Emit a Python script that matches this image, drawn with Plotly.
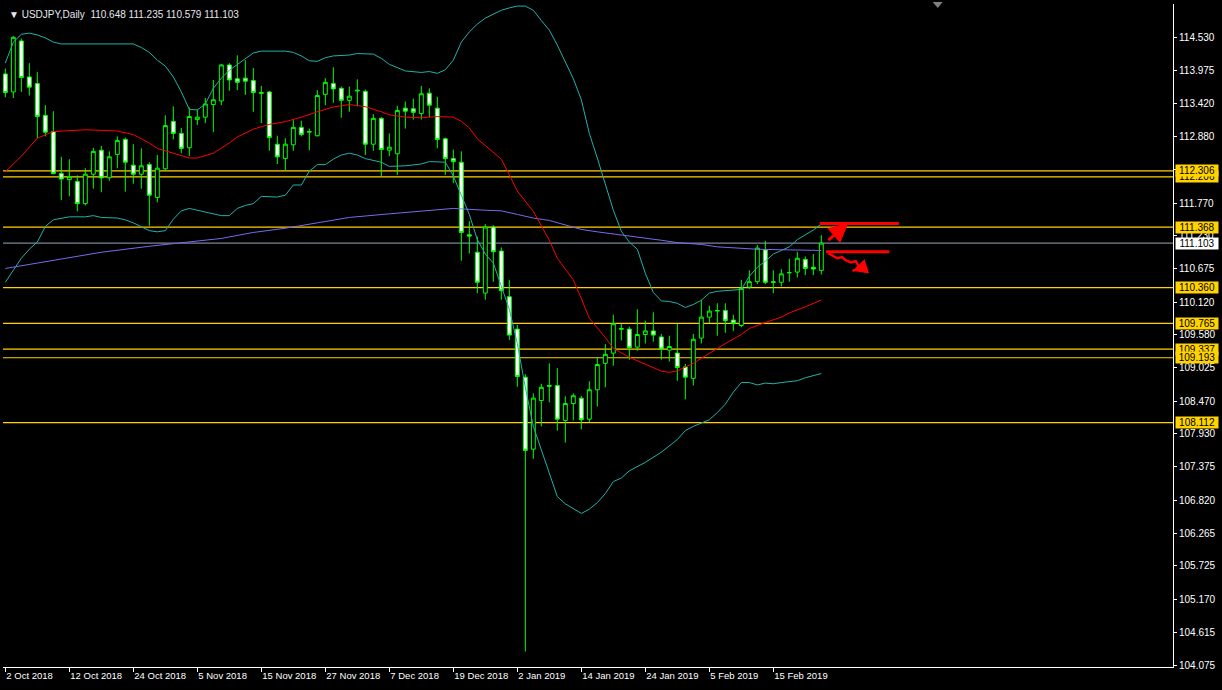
import plotly.graph_objects as go

# ---------------- data ----------------
symbol_title = "USDJPY,Daily"
last_ohlc_text = "110.648 111.235 110.579 111.103"

opens = [113.92, 113.62, 114.47, 113.87, 113.76, 113.23, 112.96, 112.26, 112.16, 112.13,
         111.76, 112.25, 112.65, 112.19, 112.58, 112.83, 112.40, 112.25, 112.41, 111.86,
         112.34, 113.13, 112.93, 112.69, 113.16, 113.20, 113.41, 113.47, 114.07, 113.84,
         113.85, 113.81, 113.61, 113.62, 112.75, 112.51, 112.74, 113.03, 112.95, 112.89,
         113.58, 113.76, 113.68, 113.48, 113.65, 113.63, 112.75, 113.18, 112.65, 112.59,
         113.35, 113.34, 113.26, 113.60, 113.35, 112.84, 112.51, 112.45, 111.24, 110.95,
         110.27, 111.37, 110.97, 110.21, 109.67, 108.87, 107.67, 108.48, 108.73, 108.73,
         108.15, 108.43, 108.52, 108.17, 108.66, 109.10, 109.27, 109.68, 109.67, 109.37,
         109.58, 109.64, 109.54, 109.32, 109.27, 109.04, 108.85, 109.52, 109.87, 109.97,
         109.98, 109.82, 109.73, 110.37, 110.46, 110.99, 110.46, 110.45, 110.61, 110.62,
         110.83, 110.70, 110.648]
highs = [114.01, 114.55, 114.51, 114.10, 113.95, 113.40, 113.30, 112.54, 112.50, 112.23,
         112.35, 112.69, 112.72, 112.63, 112.88, 112.86, 112.75, 112.68, 112.45, 112.57,
         113.23, 113.38, 113.02, 113.36, 113.33, 113.52, 113.82, 114.09, 114.10, 114.23,
         114.15, 114.02, 113.72, 113.64, 112.89, 112.85, 113.15, 113.14, 113.01, 113.65,
         113.85, 114.03, 113.71, 113.71, 113.83, 113.66, 113.25, 113.20, 112.93, 113.39,
         113.46, 113.51, 113.72, 113.68, 113.54, 112.86, 112.66, 112.63, 111.47, 111.21,
         111.42, 111.40, 111.03, 110.49, 109.74, 108.92, 108.60, 108.76, 109.10, 109.02,
         108.55, 108.60, 108.56, 108.80, 109.20, 109.42, 109.91, 109.76, 109.71, 110.00,
         109.81, 109.95, 109.59, 109.56, 109.76, 109.09, 109.59, 110.16, 110.06, 110.10,
         110.10, 109.91, 110.49, 110.65, 111.07, 111.14, 110.65, 110.67, 110.84, 110.96,
         110.88, 110.92, 111.235]
lows = [113.53, 113.52, 113.62, 113.56, 112.85, 112.88, 112.25, 111.82, 111.88, 111.63,
        111.73, 112.01, 111.95, 112.14, 112.35, 111.96, 112.09, 112.01, 111.39, 111.78,
        112.32, 112.83, 112.60, 112.55, 113.07, 113.10, 112.95, 113.40, 113.64, 113.65,
        113.57, 113.29, 113.10, 112.64, 112.42, 112.32, 112.64, 112.88, 112.65, 112.88,
        113.40, 113.44, 113.19, 113.29, 113.38, 112.57, 112.64, 112.22, 112.55, 112.24,
        113.01, 113.16, 113.16, 113.20, 112.68, 112.24, 112.10, 110.81, 110.93, 110.27,
        110.16, 110.46, 110.16, 109.49, 108.71, 104.30, 107.51, 108.05, 108.45, 107.98,
        107.78, 108.15, 108.00, 108.12, 108.38, 108.70, 109.06, 109.48, 109.16, 109.31,
        109.43, 109.46, 109.16, 109.13, 108.81, 108.50, 108.73, 109.43, 109.77, 109.56,
        109.61, 109.64, 109.70, 110.34, 110.42, 110.42, 110.27, 110.38, 110.46, 110.53,
        110.57, 110.57, 110.579]
closes = [113.61, 114.53, 113.86, 113.70, 113.21, 112.95, 112.26, 112.17, 112.21, 111.76,
          112.25, 112.63, 112.19, 112.54, 112.81, 112.45, 112.25, 112.39, 111.90, 112.35,
          113.06, 112.93, 112.68, 113.21, 113.20, 113.42, 113.49, 114.07, 113.82, 113.78,
          113.80, 113.61, 113.60, 112.86, 112.54, 112.75, 113.03, 112.91, 112.96, 113.56,
          113.78, 113.67, 113.48, 113.55, 113.64, 112.75, 113.18, 112.66, 112.70, 113.31,
          113.30, 113.28, 113.59, 113.40, 112.83, 112.51, 112.46, 111.28, 111.22, 110.45,
          111.37, 110.96, 110.31, 109.57, 108.88, 107.65, 108.52, 108.70, 108.72, 108.17,
          108.43, 108.56, 108.16, 108.66, 109.08, 109.25, 109.76, 109.67, 109.36, 109.58,
          109.64, 109.57, 109.34, 109.38, 109.03, 108.87, 109.50, 109.87, 109.97, 109.98,
          109.81, 109.76, 110.35, 110.46, 111.02, 110.45, 110.45, 110.59, 110.61, 110.85,
          110.68, 110.67, 111.103]

# Bollinger upper band (bar index, price)
bb_upper_idx = [0, 1, 2, 3, 4, 5, 6, 7, 16, 17, 18, 19, 20, 21, 22, 23, 24, 25, 26, 27,
                28, 29, 30, 31, 32, 35, 36, 37, 38, 39, 40, 41, 43, 44, 46, 47, 48, 50, 52, 53,
                54, 55, 56, 57, 58, 59, 60, 61, 62, 63, 64, 65, 66, 67, 68, 69, 70, 71, 72, 73,
                74, 75, 76, 77, 78, 79, 80, 81, 82, 83, 84, 85, 86, 87, 88, 89, 90, 91, 92, 93,
                94, 95, 96, 97, 98, 99, 100, 101, 102]
bb_upper_val = [114.10, 114.45, 114.58, 114.60, 114.57, 114.52, 114.45, 114.42, 114.42, 114.36,
                114.28, 114.15, 114.05, 113.87, 113.62, 113.33, 113.32, 113.42, 113.68, 113.85,
                113.98, 114.08, 114.18, 114.27, 114.30, 114.30, 114.28, 114.22, 114.14, 114.13,
                114.19, 114.22, 114.235, 114.26, 114.25, 114.18, 114.08, 113.97, 113.945, 113.96,
                113.93, 113.99, 114.15, 114.45, 114.62, 114.75, 114.85, 114.92, 114.98, 115.02,
                115.05, 115.05, 114.98, 114.81, 114.65, 114.40, 114.12, 113.84, 113.49, 112.93,
                112.52, 112.10, 111.65, 111.30, 111.12, 111.00, 110.60, 110.28, 110.14, 110.13,
                110.10, 110.03, 110.08, 110.15, 110.27, 110.30, 110.31, 110.31, 110.33, 110.55,
                110.70, 110.80, 110.92, 110.98, 111.04, 111.16, 111.24, 111.32, 111.42]

# Bollinger lower band
bb_lower_idx = [0, 1, 2, 3, 4, 5, 6, 8, 10, 11, 12, 14, 15, 16, 17, 18, 19, 20, 21, 22,
                23, 24, 26, 27, 28, 29, 30, 31, 32, 34, 35, 36, 37, 38, 39, 40, 41, 42, 43, 44,
                45, 47, 48, 50, 52, 53, 55, 56, 57, 58, 59, 60, 61, 62, 63, 64, 65, 66, 67, 68,
                69, 70, 71, 72, 73, 74, 75, 76, 77, 78, 80, 82, 84, 85, 86, 87, 88, 89, 90, 91,
                92, 93, 94, 95, 96, 97, 99, 100, 102]
bb_lower_val = [110.45, 110.65, 110.85, 111.00, 111.12, 111.38, 111.49, 111.54, 111.54, 111.56,
                111.53, 111.52, 111.49, 111.44, 111.38, 111.31, 111.29, 111.31, 111.50, 111.64,
                111.68, 111.65, 111.60, 111.56, 111.56, 111.68, 111.73, 111.76, 111.88, 111.87,
                111.90, 112.07, 112.07, 112.30, 112.41, 112.41, 112.50, 112.57, 112.60, 112.57,
                112.51, 112.45, 112.38, 112.39, 112.42, 112.46, 112.45, 112.22, 111.90, 111.58,
                111.16, 110.92, 110.77, 110.40, 110.00, 109.43, 108.70, 108.05, 107.65, 107.25,
                106.88, 106.76, 106.68, 106.60, 106.67, 106.78, 106.93, 107.13, 107.19, 107.31,
                107.45, 107.62, 107.83, 107.98, 108.05, 108.11, 108.16, 108.28, 108.42, 108.62,
                108.78, 108.78, 108.74, 108.77, 108.76, 108.78, 108.81, 108.86, 108.93]

# Moving average (red)
ma_red_idx = [0, 2, 4, 6, 10, 14, 16, 18, 19, 21, 23, 24, 26, 28, 29, 31, 33, 35, 37, 39,
              41, 43, 45, 47, 48, 50, 52, 54, 56, 57, 58, 59, 61, 62, 63, 64, 66, 68, 69, 71,
              72, 73, 75, 76, 78, 80, 82, 83, 84, 86, 88, 90, 92, 93, 95, 97, 98, 100, 102]
ma_red_val = [112.29, 112.55, 112.85, 112.96, 112.99, 112.97, 112.91, 112.77, 112.68, 112.60,
              112.52, 112.52, 112.60, 112.77, 112.87, 113.00, 113.08, 113.125, 113.20, 113.29,
              113.37, 113.41, 113.375, 113.29, 113.24, 113.20, 113.19, 113.21, 113.20, 113.13,
              113.02, 112.84, 112.62, 112.50, 112.24, 111.97, 111.63, 111.15, 110.85, 110.49,
              110.18, 109.85, 109.53, 109.35, 109.20, 109.08, 108.97, 108.95, 108.975, 109.10,
              109.27, 109.43, 109.58, 109.68, 109.78, 109.87, 109.94, 110.04, 110.155]

# Long moving average (blue)
ma_blue_idx = [0, 6, 12, 18, 24, 27, 31, 35, 39, 43, 48, 52, 54, 56, 60, 62, 64, 66, 68, 70,
               72, 74, 77, 79, 82, 84, 87, 89, 91, 94, 98, 102]
ma_blue_val = [110.68, 110.82, 110.95, 111.05, 111.13, 111.18, 111.28, 111.35, 111.44, 111.53,
               111.59, 111.64, 111.665, 111.68, 111.65, 111.64, 111.58, 111.52, 111.48, 111.40,
               111.33, 111.29, 111.24, 111.20, 111.15, 111.11, 111.08, 111.04, 111.02, 111.00,
               110.99, 110.98]

# horizontal levels (label drawing order: later ones on top)
yellow_levels = [112.206, 112.306, 111.368, 110.360, 109.765, 109.337, 109.193, 108.112]
bid_price = 111.103

# axis ticks
x_tick_idx = [0, 8, 16, 24, 32, 40, 48, 56, 64, 72, 80, 88, 96]
x_tick_text = ["2 Oct 2018", "12 Oct 2018", "24 Oct 2018", "5 Nov 2018", "15 Nov 2018",
               "27 Nov 2018", "7 Dec 2018", "19 Dec 2018", "2 Jan 2019", "14 Jan 2019",
               "24 Jan 2019", "5 Feb 2019", "15 Feb 2019"]
y_tick_vals = [114.530, 113.975, 113.420, 112.880, 112.325, 111.770, 111.230, 110.675,
               110.120, 109.580, 109.025, 108.470, 107.930, 107.375, 106.820, 106.265,
               105.725, 105.170, 104.615, 104.075]

# hand-drawn red marks (bar index, price)
red_line_top = ([101.8, 111.7], [111.43, 111.43])
red_arrow_up = ([102.7, 105.4], [111.13, 111.44])
red_line_mid = ([102.6, 110.5], [110.96, 110.96])
red_squiggle = ([102.9, 104.0, 104.6, 105.0, 105.7, 106.3, 106.6, 106.6, 105.9],
                [110.93, 110.85, 110.87, 110.82, 110.78, 110.80, 110.74, 110.67, 110.64])

# ---------------- figure ----------------
GOLD = "#FFD200"
FONT = "Liberation Sans, Arial, sans-serif"
fig = go.Figure()

x_bars = list(range(len(opens)))

for idx, val, col, w in [(bb_upper_idx, bb_upper_val, "#20B2AA", 1),
                         (bb_lower_idx, bb_lower_val, "#20B2AA", 1),
                         (ma_blue_idx, ma_blue_val, "#7B68EE", 1),
                         (ma_red_idx, ma_red_val, "#FF0000", 1)]:
    fig.add_trace(go.Scatter(x=idx, y=val, mode="lines", line=dict(color=col, width=w),
                             hoverinfo="skip", showlegend=False))

fig.add_trace(go.Candlestick(
    x=x_bars, open=opens, high=highs, low=lows, close=closes,
    increasing=dict(line=dict(color="#00FF00", width=1), fillcolor="#000000"),
    decreasing=dict(line=dict(color="#00FF00", width=1), fillcolor="#FFFFFF"),
    whiskerwidth=0, showlegend=False))

shapes = []
for lv in yellow_levels:
    shapes.append(dict(type="line", xref="paper", x0=0, x1=1, yref="y", y0=lv, y1=lv,
                       line=dict(color=GOLD, width=1.2), layer="below"))
shapes.append(dict(type="line", xref="paper", x0=0, x1=1, yref="y", y0=bid_price, y1=bid_price,
                   line=dict(color="#778899", width=1.2), layer="below"))

# red drawings
for xs, ys in [red_line_top, red_line_mid]:
    shapes.append(dict(type="line", xref="x", yref="y", x0=xs[0], x1=xs[1], y0=ys[0], y1=ys[1],
                       line=dict(color="#FF0000", width=3)))
path = "M " + " L ".join(f"{x},{y}" for x, y in zip(*red_squiggle))
shapes.append(dict(type="path", xref="x", yref="y", path=path,
                   line=dict(color="#FF0000", width=2.5)))

# chart shift marker at top
shapes.append(dict(type="path", xref="paper", yref="paper",
                   path="M 0.7946,1.003 L 0.8031,1.003 L 0.7989,0.994 Z",
                   fillcolor="#808080", line=dict(width=0)))

annotations = []
annotations.append(dict(x=red_arrow_up[0][1], y=red_arrow_up[1][1], ax=red_arrow_up[0][0],
                        ay=red_arrow_up[1][0], xref="x", yref="y", axref="x", ayref="y",
                        showarrow=True, arrowhead=2, arrowsize=1.3, arrowwidth=3,
                        arrowcolor="#FF0000", text=""))
annotations.append(dict(x=red_squiggle[0][-1], y=red_squiggle[1][-1], ax=red_squiggle[0][-2],
                        ay=red_squiggle[1][-2], xref="x", yref="y", axref="x", ayref="y",
                        showarrow=True, arrowhead=2, arrowsize=1.2, arrowwidth=2.5,
                        arrowcolor="#FF0000", text=""))

label_font = dict(family=FONT, size=10, color="#000000")
for lv in yellow_levels:
    annotations.append(dict(x=1, xref="paper", xshift=2, y=lv, yref="y", xanchor="left",
                            yanchor="middle", text=f"{lv:.3f}", showarrow=False,
                            bgcolor=GOLD, font=label_font, borderpad=0, width=42, height=11,
                            align="center"))
annotations.append(dict(x=1, xref="paper", xshift=2, y=bid_price, yref="y", xanchor="left",
                        yanchor="middle", text=f"{bid_price:.3f}", showarrow=False,
                        bgcolor="#FFFFFF", font=label_font, borderpad=0, width=42, height=11,
                        align="center"))

annotations.append(dict(x=0, xref="paper", xshift=4, y=1, yref="paper", yshift=-3,
                        xanchor="left", yanchor="top", showarrow=False,
                        text="\u25BC " + symbol_title + "  " + last_ohlc_text,
                        font=dict(family=FONT, size=10, color="#E6E6F0")))

axis_font = dict(family=FONT, size=10, color="#FFFFFF")
fig.update_layout(
    width=1222, height=690,
    paper_bgcolor="#000000", plot_bgcolor="#000000",
    margin=dict(l=3, r=49, t=4, b=23, autoexpand=False),
    shapes=shapes, annotations=annotations,
    showlegend=False,
    xaxis=dict(range=[-0.29, 145.96], showgrid=False, zeroline=False, automargin=False,
               rangeslider=dict(visible=False),
               tickmode="array", tickvals=x_tick_idx, ticktext=x_tick_text, tickangle=0,
               ticks="outside", ticklen=4, tickcolor="#FFFFFF",
               ticklabelposition="outside right",
               tickfont=dict(family=FONT, size=9.5, color="#FFFFFF"),
               showline=True, linecolor="#FFFFFF", linewidth=1),
    yaxis=dict(range=[104.042, 115.085], side="right", showgrid=False, zeroline=False,
               automargin=False,
               tickmode="array", tickvals=y_tick_vals,
               ticktext=[f"{v:.3f}" for v in y_tick_vals],
               ticks="outside", ticklen=3, tickcolor="#FFFFFF", tickfont=axis_font,
               showline=True, linecolor="#FFFFFF", linewidth=1),
)

fig.write_html(
    "out.html",
    config={"displayModeBar": False},
    post_script="document.body.style.margin='0';document.body.style.padding='0';"
                "document.body.style.overflow='hidden';"
                "document.body.style.background='#000';",
)
